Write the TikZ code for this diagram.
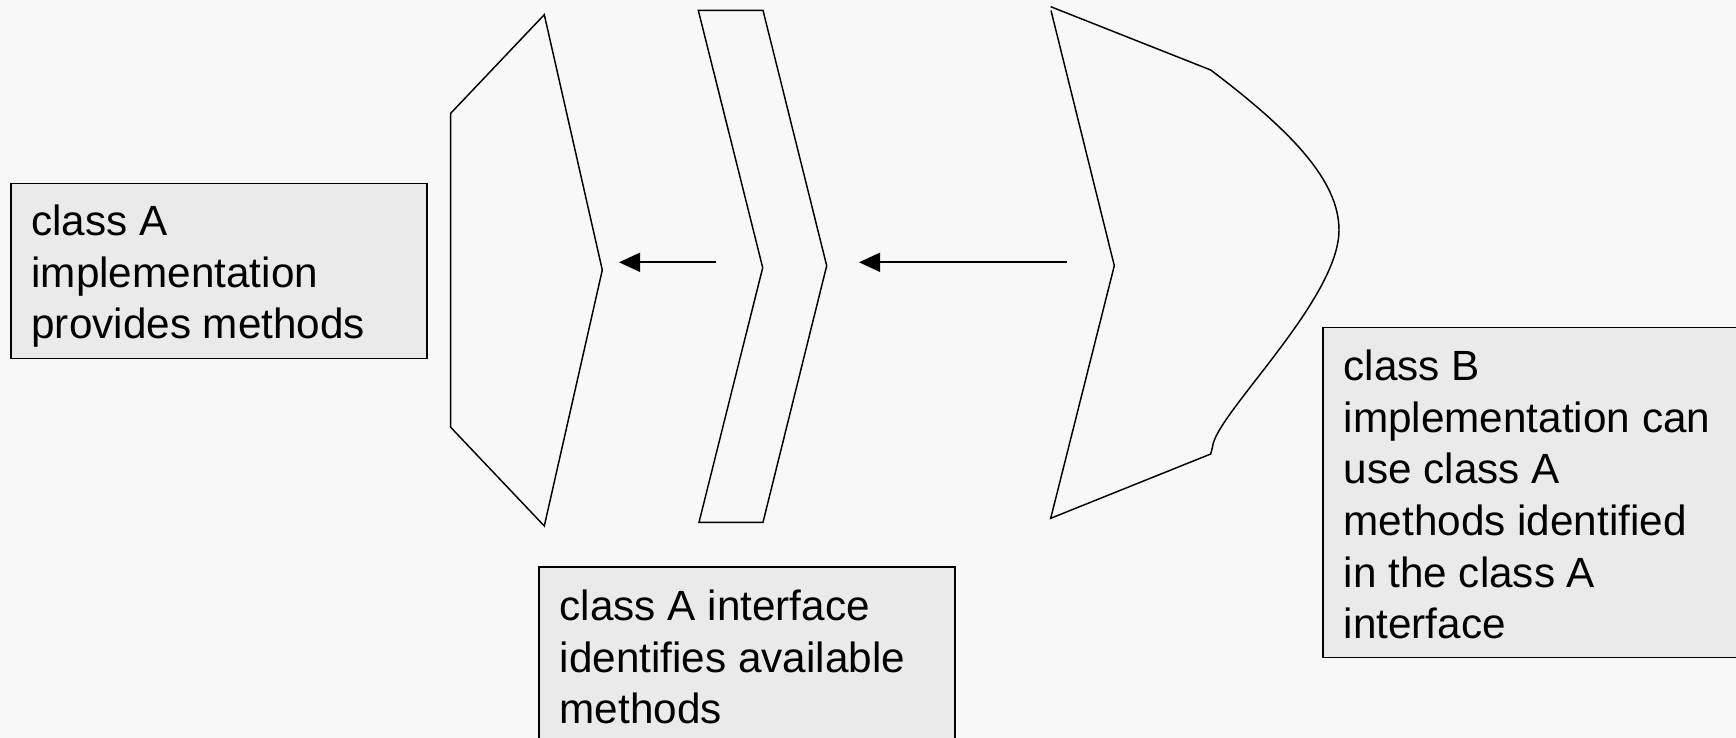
\documentclass[tikz,border=0pt]{standalone}
\usepackage{fontspec}
\setmainfont{Liberation Sans}
\usetikzlibrary{arrows.meta}
\definecolor{bg}{RGB}{248,248,248}
\definecolor{boxfill}{RGB}{234,234,234}
\tikzset{
  outline/.style={draw=black, line width=1.1pt, line join=miter},
  notebox/.style={draw=black, line width=1.3pt, fill=boxfill, inner sep=0pt, anchor=north west},
  notetext/.style={inner sep=0pt, anchor=north west, align=left, font={\fontsize{31.7pt}{38.8pt}\selectfont}},
  flow/.style={line width=1.4pt, -{Triangle[length=15.75pt, width=14.25pt]}},
}
\newcommand{\firstline}{\rule{0pt}{30pt}}
\begin{document}
\begin{tikzpicture}[x=0.75pt, y=-0.75pt]
\path[fill=bg] (0,0) rectangle (1736,738);
\useasboundingbox (0,0) rectangle (1736,738);

% shape 1: class A implementation
\draw[outline] (450.7,113.3) -- (544.3,14.7) -- (602.3,270) -- (544.3,526) -- (450.7,427.3) -- cycle;
\coordinate (s1tip) at (619,262.3);

% shape 2: class A interface
\draw[outline] (698.3,10.3) -- (763,10.3) -- (826.7,265.7) -- (763,522.3) -- (699,522.3) -- (762.7,267.7) -- cycle;
\coordinate (s2back) at (715.7,262.3);
\coordinate (s2tip) at (859,262.3);

% shape 3: class B implementation
\draw[outline] (1050.7,6.7) -- (1210.7,70)
  .. controls (1290,130) and (1339,180) .. (1339,230)
  .. controls (1339,300) and (1215,415) .. (1212.5,447)
  -- (1210.7,454) -- (1050.7,518.3) -- (1114.3,265.7) -- (1051,10.5);
\coordinate (s3back) at (1066.7,262.3);

% arrows
\draw[flow] (s2back) -- (s1tip);
\draw[flow] (s3back) -- (s2tip);

% boxes
\node[notebox, minimum width=312pt, minimum height=131.25pt] (boxA) at (10,182.7) {};
\node[notetext] (txtA) at (31.2,195) {\firstline class A\\implementation\\provides methods};

\node[notebox, minimum width=312pt, minimum height=130pt] (boxC) at (538.3,566) {};
\node[notetext] (txtC) at (559.5,580) {\firstline class A interface\\identifies available\\methods};

\node[notebox, minimum width=312.5pt, minimum height=247.5pt] (boxB) at (1322.3,326.7) {};
\node[notetext] (txtB) at (1343.5,340) {\firstline class B\\implementation can\\use class A\\methods identified\\in the class A\\interface};
\end{tikzpicture}
\end{document}
